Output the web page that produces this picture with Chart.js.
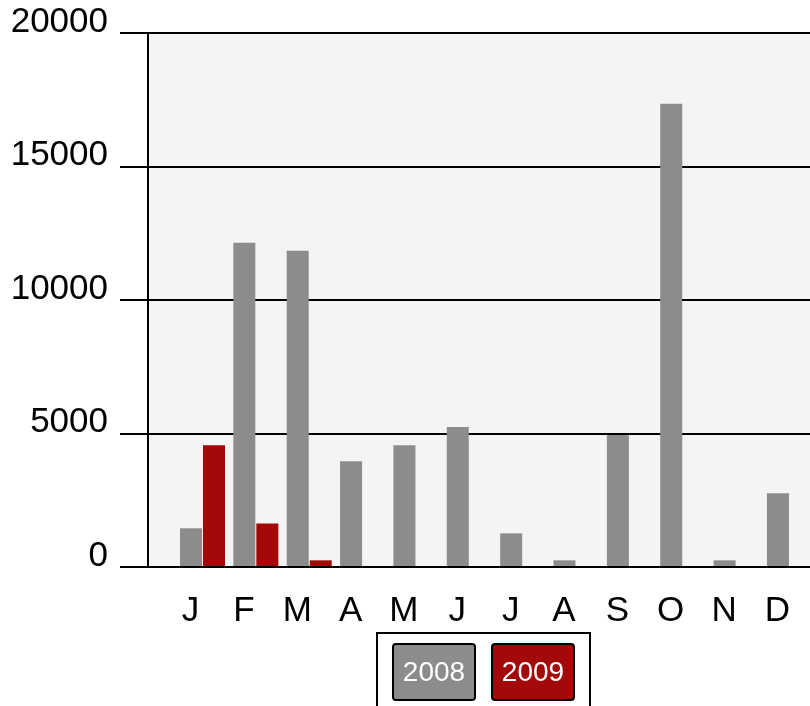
<!DOCTYPE html>
<html>
<head>
<meta charset="utf-8">
<script src="https://cdn.jsdelivr.net/npm/chart.js@4.4.0/dist/chart.umd.min.js"></script>
<style>
  html, body { margin: 0; padding: 0; background: #fff; overflow: hidden; }
  #wrap { width: 810px; height: 706px; }
</style>
</head>
<body>
<div id="wrap"><canvas id="chart" width="810" height="706"></canvas></div>
<script>
// monthly values
const MONTHS = ['J', 'F', 'M', 'A', 'M', 'J', 'J', 'A', 'S', 'O', 'N', 'D'];
const SERIES_NAMES = ['2008', '2009'];
const VALUES_2008 = [1450, 12140, 11840, 3960, 4560, 5240, 1260, 250, 4940, 17350, 250, 2760];
const VALUES_2009 = [4560, 1630, 250, 0, 0, 0, 0, 0, 0, 0, 0, 0];
const Y_TICKS = [0, 5000, 10000, 15000, 20000];

const COLORS = {
  s2008: '#8c8c8c',
  s2009: '#a30909',
  plotBg: '#f4f4f4',
  line: '#000000'
};
const FONT = "'Liberation Sans', Arial, sans-serif";

// light grey plot background
const plotBackground = {
  id: 'plotBackground',
  beforeDraw(chart) {
    const { ctx, chartArea: a } = chart;
    ctx.save();
    ctx.fillStyle = COLORS.plotBg;
    ctx.fillRect(a.left, a.top, a.right - a.left, a.bottom - a.top);
    ctx.restore();
  }
};

// boxed legend below the axis, labels written inside coloured swatches
const boxLegend = {
  id: 'boxLegend',
  afterDraw(chart) {
    const { ctx } = chart;
    const sets = chart.data.datasets;
    const left = 377, top = 633, pad = 16, gap = 17, sw = 82, sh = 56;
    const width = pad * 2 + sets.length * sw + (sets.length - 1) * gap;
    ctx.save();
    ctx.strokeStyle = COLORS.line;
    ctx.lineWidth = 2;
    ctx.strokeRect(left, top, width, 120);
    ctx.font = '28px ' + FONT;
    ctx.textAlign = 'center';
    ctx.textBaseline = 'middle';
    sets.forEach((ds, i) => {
      const x = left + pad + i * (sw + gap);
      const y = top + 11;
      ctx.beginPath();
      if (ctx.roundRect) ctx.roundRect(x, y, sw, sh, 3); else ctx.rect(x, y, sw, sh);
      ctx.fillStyle = ds.backgroundColor;
      ctx.fill();
      ctx.stroke();
      ctx.fillStyle = '#ffffff';
      ctx.fillText(ds.label, x + sw / 2, y + sh / 2 + 1);
    });
    ctx.restore();
  }
};

const toPoints = vals => vals.map((v, i) => ({ x: i, y: v }));

new Chart(document.getElementById('chart').getContext('2d'), {
  type: 'bar',
  data: {
    datasets: [
      { label: SERIES_NAMES[0], data: toPoints(VALUES_2008), backgroundColor: COLORS.s2008 },
      { label: SERIES_NAMES[1], data: toPoints(VALUES_2009), backgroundColor: COLORS.s2009 }
    ]
  },
  options: {
    responsive: false,
    animation: false,
    layout: { padding: { top: 33, right: 0, left: 0, bottom: 0 } },
    categoryPercentage: 0.862,
    barPercentage: 0.957,
    plugins: { legend: { display: false }, tooltip: { enabled: false } },
    scales: {
      x: {
        type: 'linear',
        offset: false,
        min: -1.021,
        max: 11.385,
        afterBuildTicks: s => { s.ticks = MONTHS.map((m, i) => ({ value: i })); },
        // hidden tick marks give the label gap, so ticks.padding can stay 0
        grid: { display: false, drawTicks: true, tickLength: 23 },
        border: { display: false },
        ticks: {
          autoSkip: false,
          maxRotation: 0,
          padding: 0,
          labelOffset: -12,
          color: '#000',
          font: { family: FONT, size: 35 },
          callback: v => MONTHS[v] || ''
        },
        afterFit: s => { s.height = 139; }
      },
      y: {
        min: 0,
        max: 20000,
        afterBuildTicks: s => { s.ticks = Y_TICKS.map(v => ({ value: v })); },
        grid: { color: COLORS.line, lineWidth: 2, tickLength: 28 },
        border: { display: true, color: COLORS.line, width: 2 },
        ticks: {
          padding: 12,
          labelOffset: -11,
          color: '#000',
          font: { family: FONT, size: 35 },
          callback: v => String(v)
        },
        afterFit: s => { s.width = 148; }
      }
    }
  },
  plugins: [plotBackground, boxLegend]
});
</script>
</body>
</html>
